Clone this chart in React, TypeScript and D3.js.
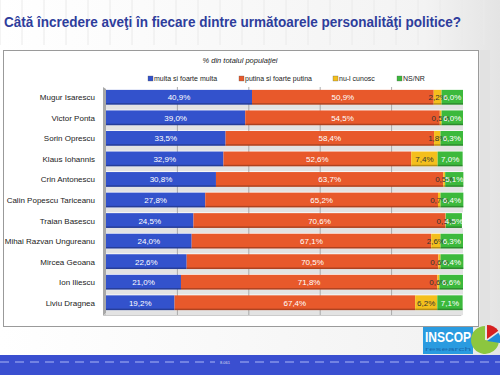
import React from "react";
import * as d3 from "d3";

const names = [
  "Mugur Isarescu",
  "Victor Ponta",
  "Sorin Oprescu",
  "Klaus Iohannis",
  "Crin Antonescu",
  "Calin Popescu Tariceanu",
  "Traian Basescu",
  "Mihai Razvan Ungureanu",
  "Mircea Geoana",
  "Ion Iliescu",
  "Liviu Dragnea",
];
const multa = [40.9, 39.0, 33.5, 32.9, 30.8, 27.8, 24.5, 24.0, 22.6, 21.0, 19.2];
const putina = [50.9, 54.5, 58.4, 52.6, 63.7, 65.2, 70.6, 67.1, 70.5, 71.8, 67.4];
const nuCunosc = [2.2, 0.5, 1.8, 7.4, 0.5, 0.7, 0.1, 2.6, 0.6, 0.6, 6.2];
const nsnr = [6.0, 6.0, 6.3, 7.0, 5.1, 6.4, 4.5, 6.3, 6.4, 6.6, 7.1];

const seriesNames = ["multa si foarte multa", "putina si foarte putina", "nu-l cunosc", "NS/NR"];
const seriesColors = ["#3352cc", "#e8592b", "#f4bf1c", "#3cb93c"];
const labelColors = ["#ffffff", "#ffffff", "#333333", "#ffffff"];
const gridTicks = [20, 40, 60, 80];

const title = "Câtă încredere aveţi în fiecare dintre următoarele personalităţi politice?";
const subtitle = "% din totalul populaţiei";

const fmt = (v: number) => v.toFixed(1).replace(".", ",") + "%";

export default function App() {
  const W = 500, H = 375;
  const x = d3.scaleLinear().domain([0, 100]).range([106, 463]);
  const y = d3.scaleBand<string>().domain(names).range([87, 313]).paddingInner(0.28).paddingOuter(0.14);
  const series = [multa, putina, nuCunosc, nsnr];
  const stacked = names.map((n, i) => {
    let acc = 0;
    return series.map((s, k) => {
      const v = s[i];
      const seg = { k, v, x0: acc, x1: acc + v };
      acc += v;
      return seg;
    });
  });
  const bh = y.bandwidth();
  const font = "'Liberation Sans', Arial, sans-serif";
  const legendX = [148, 239, 333, 397];

  return (
    <svg width={W} height={H} style={{ position: "absolute", left: 0, top: 0 }} fontFamily={font}>
      <defs>
        <linearGradient id="bg" x1="0" x2="1" y1="0" y2="0">
          <stop offset="0" stopColor="#ffffff" />
          <stop offset="0.85" stopColor="#f3f3f3" />
          <stop offset="1" stopColor="#e4e4e4" />
        </linearGradient>
      </defs>
      <rect x={0} y={0} width={W} height={H} fill="url(#bg)" />
      {d3.range(0, 500, 22).map((gx) => (
        <line key={"vx" + gx} x1={gx} x2={gx} y1={0} y2={45} stroke="#eaeaea" strokeWidth={1} />
      ))}
      <text x={4} y={27} fontSize={14} fontWeight="bold" fill="#2e3d9c" textLength={457} lengthAdjust="spacingAndGlyphs">
        {title}
      </text>
      {/* chart panel */}
      <rect x={480} y={50} width={10} height={280} fill="#e2e2e2" />
      <rect x={3.5} y={50.5} width={475} height={276} fill="#ffffff" stroke="#9a9a9a" strokeWidth={1} />
      <text x={240} y={63} fontSize={7.5} fontStyle="italic" textAnchor="middle" fill="#222">
        {subtitle}
      </text>
      {seriesNames.map((s, k) => (
        <g key={s}>
          <rect x={legendX[k]} y={76} width={5} height={5} fill={seriesColors[k]} stroke="#555" strokeWidth={0.3} />
          <text x={legendX[k] + 6} y={81} fontSize={7} fill="#222">
            {s}
          </text>
        </g>
      ))}
      {/* left wall */}
      <path d={`M103,${y.range()[0]} L106,${y.range()[0] + 2} L106,${y.range()[1]} L103,${y.range()[1] + 3} Z`} fill="#a8a8a8" />
      {/* floor */}
      <path d={`M103,${y.range()[1] + 3} L106,${y.range()[1]} L463,${y.range()[1]} L461,${y.range()[1] + 3} Z`} fill="#c8c8c8" />
      {/* depth strips */}
      {names.map((n) => (
        <rect key={"d" + n} x={106} y={(y(n) as number) + bh} width={357} height={5} fill="#e3e3e3" />
      ))}
      {gridTicks.map((t) => (
        <line key={"g" + t} x1={x(t)} x2={x(t)} y1={y.range()[0]} y2={y.range()[1] + 2} stroke="#9a9a9a" strokeWidth={0.8} />
      ))}
      {names.map((n, i) => {
        const yy = y(n) as number;
        return (
          <g key={n}>
            <text x={95} y={yy + bh / 2 + 3} fontSize={8} textAnchor="end" fill="#222">
              {n}
            </text>
            {stacked[i].map((seg) => (
              <g key={seg.k}>
                <rect x={x(seg.x0)} y={yy} width={x(seg.x1) - x(seg.x0)} height={bh} fill={seriesColors[seg.k]} />
                <rect x={x(seg.x0)} y={yy + bh - 1.5} width={x(seg.x1) - x(seg.x0)} height={1.5} fill="#000" opacity={0.25} />
              </g>
            ))}
            {stacked[i].map((seg) => (
              <text
                key={"l" + seg.k}
                x={(x(seg.x0) + x(seg.x1)) / 2}
                y={yy + bh / 2 + 3}
                fontSize={8}
                textAnchor="middle"
                fill={labelColors[seg.k]}
              >
                {fmt(seg.v)}
              </text>
            ))}
          </g>
        );
      })}
      {/* logo */}
      <rect x={423} y={327} width={50} height={27} fill="#2a9be0" />
      <text x={425} y={342} fontSize={14} fontWeight="bold" fill="#ffffff" textLength={46} lengthAdjust="spacingAndGlyphs">
        INSCOP
      </text>
      <text x={425} y={351} fontSize={6} fill="#1a6cb0" textLength={46} lengthAdjust="spacingAndGlyphs">
        research
      </text>
      <g transform="translate(485,340)">
        <path d={d3.arc()({ innerRadius: 0, outerRadius: 14, startAngle: Math.PI * 0.55, endAngle: Math.PI * 2 }) || ""} fill="#8cc63f" />
        <path d={d3.arc()({ innerRadius: 0, outerRadius: 14, startAngle: 0, endAngle: Math.PI * 0.3 }) || ""} fill="#d62020" transform="translate(2,-1)" />
        <path d={d3.arc()({ innerRadius: 0, outerRadius: 14, startAngle: Math.PI * 0.3, endAngle: Math.PI * 0.55 }) || ""} fill="#1f8ad8" transform="translate(2,1)" />
      </g>
      {/* bottom band */}
      <rect x={0} y={355} width={W} height={20} fill="#3a4fd0" />
      <line x1={0} x2={W} y1={362} y2={362} stroke="#c8d0ff" strokeWidth={0.8} strokeDasharray="9 6" />
      <rect x={215} y={359} width={20} height={6} fill="#3a4fd0" />
      <text x={225} y={364} fontSize={4} textAnchor="middle" fill="#dde">8.061</text>
    </svg>
  );
}
